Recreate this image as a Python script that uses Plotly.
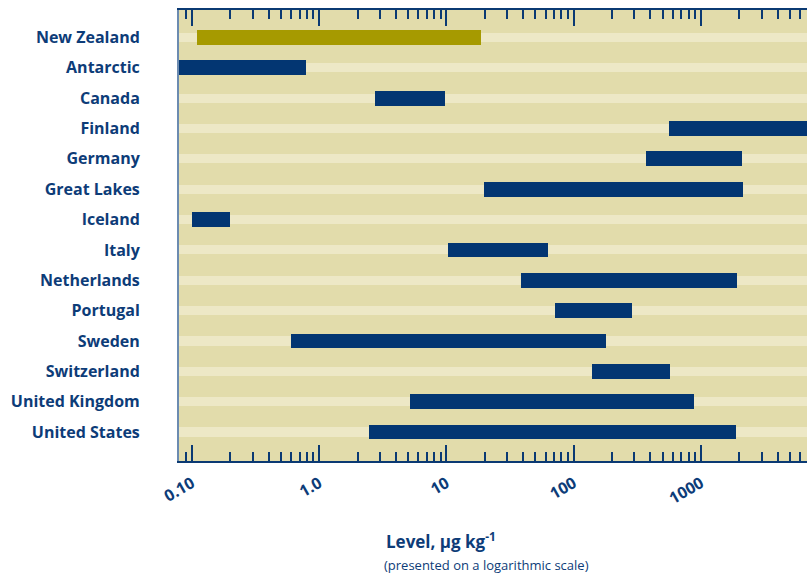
import plotly.graph_objects as go

countries = ["New Zealand", "Antarctic", "Canada", "Finland", "Germany", "Great Lakes",
             "Iceland", "Italy", "Netherlands", "Portugal", "Sweden", "Switzerland",
             "United Kingdom", "United States"]
low = [0.11, 0.07, 2.75, 560, 370, 19.8, 0.10, 10.3, 38.6, 71, 0.60, 140, 5.2, 2.47]
high = [18.6, 0.79, 9.8, 10000, 2100, 2140, 0.20, 63, 1920, 288, 180, 571, 883, 1885]
bar_colors = ["#a69a00"] + ["#033672"] * 13

major_vals = [0.1, 1, 10, 100, 1000]
major_text = ["0.10", "1.0", "10", "100", "1000"]
minor_vals = [0.09, 0.2, 0.3, 0.4, 0.5, 0.6, 0.7, 0.8, 0.9,
              2, 3, 4, 5, 6, 7, 8, 9,
              20, 30, 40, 50, 60, 70, 80, 90,
              200, 300, 400, 500, 600, 700, 800, 900,
              2000, 3000, 4000, 5000, 6000]

TXT = "#0d3c78"
FONT = "Open Sans"
ypos = list(range(len(countries)))

fig = go.Figure()
# light stripes behind each row
fig.add_trace(go.Bar(
    y=ypos, x=[1e5] * len(countries), base=[0.01] * len(countries),
    orientation="h", width=0.3, marker=dict(color="#ede8c6", line=dict(width=0)),
    hoverinfo="skip", showlegend=False))
# range bars
fig.add_trace(go.Bar(
    y=ypos, x=[h - l for l, h in zip(low, high)], base=low,
    orientation="h", width=0.49, marker=dict(color=bar_colors, line=dict(width=0)),
    showlegend=False))

fig.update_layout(
    width=807, height=575,
    margin=dict(l=179, r=0, t=10, b=114),
    paper_bgcolor="white", plot_bgcolor="#e2dcab",
    barmode="overlay", bargap=0,
    font=dict(family=FONT, color=TXT),
    xaxis=dict(
        type="log", range=[-1.102, 3.833],
        tickvals=major_vals, ticktext=major_text,
        ticks="inside", ticklen=16, tickwidth=2, tickcolor="#0b3a73",
        minor=dict(tickvals=minor_vals, ticks="inside", ticklen=9, tickwidth=2,
                   tickcolor="#0b3a73", showgrid=False),
        showline=True, linecolor="#0b3a73", linewidth=2, mirror="ticks",
        showgrid=False, zeroline=False,
        tickangle=-30, ticklabelstandoff=5,
        tickfont=dict(family=FONT, size=16, color=TXT, weight="bold"),
    ),
    yaxis=dict(
        range=[13.955, -0.906], tickvals=ypos, ticktext=countries,
        showgrid=False, zeroline=False, ticks="",
        showline=True, linecolor="#6c8bb0", linewidth=2,
        ticklabelstandoff=34,
        tickfont=dict(family=FONT, size=16, color=TXT, weight="bold"),
    ),
    annotations=[
        dict(text="Level, µg kg<sup>-1</sup>", xref="paper", yref="paper",
             x=(384 - 179) / 628, y=(461 - 540) / 451, xanchor="left", yanchor="middle",
             showarrow=False, font=dict(family=FONT, size=17, color=TXT, weight="bold")),
        dict(text="(presented on a logarithmic scale)", xref="paper", yref="paper",
             x=(382 - 179) / 628, y=(461 - 565) / 451, xanchor="left", yanchor="middle",
             showarrow=False, font=dict(family=FONT, size=13, color=TXT)),
    ],
)

fig.write_html("out.html", config={"displayModeBar": False},
               post_script="document.body.style.margin='0';document.body.style.overflow='hidden';")
